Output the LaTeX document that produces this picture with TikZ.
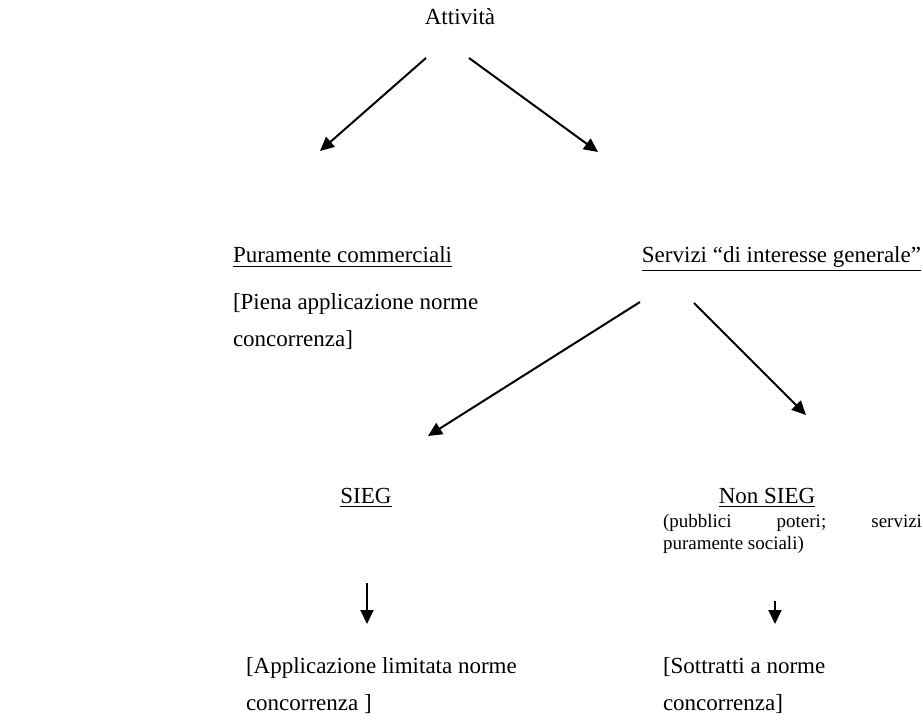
\documentclass[tikz,border=0pt]{standalone}
\usepackage{fontspec}
\setmainfont{Liberation Serif}
\usetikzlibrary{arrows.meta}
\begin{document}
\begin{tikzpicture}[x=0.5pt,y=-0.5pt,
  txt/.style={inner sep=0pt,outer sep=0pt,font=\fontsize{11.5}{14}\selectfont},
  small/.style={inner sep=0pt,outer sep=0pt,font=\fontsize{9.5}{11}\selectfont},
  arr/.style={line width=1pt,-{Triangle[length=7pt,width=6.5pt]}}]
\useasboundingbox (0,0) rectangle (923,722);
% texts
\node[txt,anchor=base] (attiv) at (460,25) {Attività};
\node[txt,anchor=base west] (puram) at (233,263) {\underline{Puramente commerciali}};
\node[txt,anchor=base east] (serv) at (921,263) {\underline{Servizi “di interesse generale”}};
\node[txt,anchor=base west] (piena1) at (233,310) {[Piena applicazione norme};
\node[txt,anchor=base west] (piena2) at (233,347) {concorrenza]};
\node[txt,anchor=base] (sieg) at (366,503) {\underline{SIEG}};
\node[txt,anchor=base] (nonsieg) at (767,503) {\underline{Non SIEG}};
\node[small,anchor=base west] (pub1) at (663,527) {\makebox[129.5pt][s]{(pubblici\hfill poteri;\hfill servizi}};
\node[small,anchor=base west] (pub2) at (663,549) {puramente sociali)};
\node[txt,anchor=base west] (appl1) at (246,673) {[Applicazione limitata norme};
\node[txt,anchor=base west] (appl2) at (246,710) {concorrenza ]};
\node[txt,anchor=base west] (sott1) at (663,673) {[Sottratti a norme};
\node[txt,anchor=base west] (sott2) at (663,710) {concorrenza]};
% arrow end points
\coordinate (a1s) at (426,58);  \coordinate (a1e) at (320,151);
\coordinate (a2s) at (469,58);  \coordinate (a2e) at (598,152);
\coordinate (a3s) at (640,302); \coordinate (a3e) at (428,436);
\coordinate (a4s) at (694,303); \coordinate (a4e) at (806,415);
\coordinate (a5s) at (367,583); \coordinate (a5e) at (367,624);
\coordinate (a6s) at (775,601); \coordinate (a6e) at (775,624);
\draw[arr] (a1s) -- (a1e);
\draw[arr] (a2s) -- (a2e);
\draw[arr] (a3s) -- (a3e);
\draw[arr] (a4s) -- (a4e);
\draw[arr] (a5s) -- (a5e);
\draw[arr] (a6s) -- (a6e);
\end{tikzpicture}
\end{document}
